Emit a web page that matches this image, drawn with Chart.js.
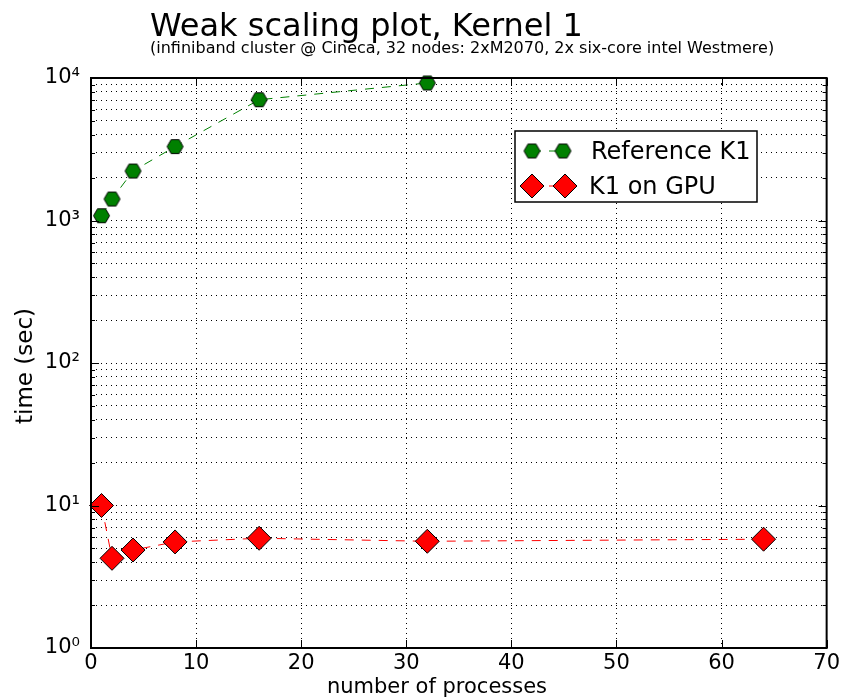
<!DOCTYPE html>
<html>
<head>
<meta charset="utf-8">
<title>Weak scaling plot, Kernel 1</title>
<script src="https://cdn.jsdelivr.net/npm/chart.js@4.4.0/dist/chart.umd.min.js"></script>
<style>
  html, body { margin: 0; padding: 0; background: #fff; }
  #wrap { width: 843px; height: 700px; }
</style>
</head>
<body>
<div id="wrap"><canvas id="weakChart" width="843" height="700"></canvas></div>
<script>
// Data
const processes = [1, 2, 4, 8, 16, 32, 64];
const referenceK1 = [1080, 1415, 2225, 3300, 7040, 9230]; // runs only up to 32 processes
const gpuK1 = [10.0, 4.26, 4.87, 5.55, 5.89, 5.61, 5.80];
const seriesNames = ['Reference K1', 'K1 on GPU'];
const xTicks = [0, 10, 20, 30, 40, 50, 60, 70];
const yDecades = [1, 10, 100, 1000, 10000];

const FONT = 'DejaVu Sans';
const GREEN = '#008000';
const RED = '#ff0000';

// log axis: every 1..9 x 10^k gets a grid line, only decades get a label
const yTicks = [];
yDecades.forEach((d, i) => {
    if (i === yDecades.length - 1) { yTicks.push(d); return; }
    for (let m = 1; m < 10; m++) yTicks.push(m * d);
});
const SUP = ['⁰', '¹', '²', '³', '⁴', '⁵', '⁶'];
function decadeLabel(v) {
    const e = Math.round(Math.log10(v));
    return '10' + String(e).split('').map(c => SUP[+c]).join('');
}

// hexagon marker (flat top), Chart.js has none built in
function makeHexagon(r, fill) {
    const c = document.createElement('canvas');
    const size = Math.ceil(2 * r + 3);
    c.width = size;
    c.height = size;
    const g = c.getContext('2d');
    const cx = size / 2, cy = size / 2;
    g.beginPath();
    for (let k = 0; k < 6; k++) {
        const a = k * Math.PI / 3;
        g.lineTo(cx + r * Math.cos(a), cy + r * Math.sin(a));
    }
    g.closePath();
    g.fillStyle = fill;
    g.fill();
    g.strokeStyle = '#000';
    g.lineWidth = 1;
    g.stroke();
    return c;
}
const hexagon = makeHexagon(8, GREEN);

function drawDiamond(ctx, x, y, r) {
    ctx.beginPath();
    ctx.moveTo(x, y - r);
    ctx.lineTo(x + r, y);
    ctx.lineTo(x, y + r);
    ctx.lineTo(x - r, y);
    ctx.closePath();
    ctx.fillStyle = RED;
    ctx.fill();
    ctx.strokeStyle = '#000';
    ctx.lineWidth = 1;
    ctx.stroke();
}

// frame, inward ticks, legend box and titles (matplotlib look)
const decorations = {
    id: 'decorations',
    afterDatasetsDraw(chart) {
        const ctx = chart.ctx;
        const a = chart.chartArea;
        const xs = chart.scales.x, ys = chart.scales.y;
        ctx.save();
        ctx.strokeStyle = '#000';
        ctx.lineWidth = 1;
        ctx.beginPath();
        xTicks.forEach(v => {
            const px = Math.round(xs.getPixelForValue(v)) + 0.5;
            ctx.moveTo(px, a.bottom); ctx.lineTo(px, a.bottom - 8);
            ctx.moveTo(px, a.top); ctx.lineTo(px, a.top + 8);
        });
        yTicks.forEach(v => {
            const py = Math.round(ys.getPixelForValue(v)) + 0.5;
            const len = yDecades.includes(v) ? 8 : 4;
            ctx.moveTo(a.left, py); ctx.lineTo(a.left + len, py);
            ctx.moveTo(a.right, py); ctx.lineTo(a.right - len, py);
        });
        ctx.stroke();
        ctx.lineWidth = 2;
        ctx.strokeRect(a.left, a.top, a.right - a.left, a.bottom - a.top);
        ctx.restore();
    },
    afterDraw(chart) {
        const ctx = chart.ctx;
        ctx.save();

        // legend
        const box = { x: 515, y: 131, w: 242, h: 71 };
        ctx.fillStyle = '#fff';
        ctx.fillRect(box.x, box.y, box.w, box.h);
        ctx.strokeStyle = '#000';
        ctx.lineWidth = 1.5;
        ctx.strokeRect(box.x, box.y, box.w, box.h);

        ctx.setLineDash([9, 8]);
        ctx.lineWidth = 1;
        ctx.strokeStyle = GREEN;
        ctx.beginPath(); ctx.moveTo(532, 151); ctx.lineTo(563, 151); ctx.stroke();
        ctx.strokeStyle = RED;
        ctx.beginPath(); ctx.moveTo(532, 186); ctx.lineTo(565, 186); ctx.stroke();
        ctx.setLineDash([]);
        [532, 563].forEach(x => ctx.drawImage(hexagon, x - hexagon.width / 2, 151 - hexagon.height / 2));
        [532, 565].forEach(x => drawDiamond(ctx, x, 186, 12));

        ctx.fillStyle = '#000';
        ctx.textAlign = 'left';
        ctx.textBaseline = 'alphabetic';
        ctx.font = '24px "' + FONT + '"';
        ctx.fillText(seriesNames[0], 591, 159);
        ctx.fillText(seriesNames[1], 589, 194);

        // titles
        ctx.font = '32px "' + FONT + '"';
        ctx.fillText('Weak scaling plot, Kernel 1', 150, 36);
        ctx.font = '16px "' + FONT + '"';
        ctx.fillText('(infiniband cluster @ Cineca, 32 nodes: 2xM2070, 2x six-core intel Westmere)', 150, 53);

        // axis labels
        ctx.textAlign = 'center';
        ctx.font = '21px "' + FONT + '"';
        ctx.fillText('number of processes', 437, 693);
        ctx.font = '23px "' + FONT + '"';
        ctx.translate(32, 366);
        ctx.rotate(-Math.PI / 2);
        ctx.fillText('time (sec)', 0, 0);
        ctx.restore();
    }
};

const canvas = document.getElementById('weakChart');

new Chart(canvas, {
    type: 'scatter',
    data: {
        datasets: [{
            label: seriesNames[0],
            data: referenceK1.map((t, i) => ({ x: processes[i], y: t })),
            showLine: true,
            borderColor: GREEN,
            borderWidth: 1,
            borderDash: [9, 8],
            pointStyle: hexagon,
            pointRadius: 8,
            pointHoverRadius: 8,
            clip: false
        }, {
            label: seriesNames[1],
            data: gpuK1.map((t, i) => ({ x: processes[i], y: t })),
            showLine: true,
            borderColor: RED,
            borderWidth: 1,
            borderDash: [9, 8],
            pointStyle: 'rectRot',
            pointRadius: 12,
            pointHoverRadius: 12,
            pointBackgroundColor: RED,
            pointBorderColor: '#000',
            pointBorderWidth: 1,
            clip: false
        }]
    },
    options: {
        responsive: false,
        animation: false,
        events: [],
        layout: { padding: { top: 78, right: 15, bottom: 0, left: 0 } },
        plugins: {
            legend: { display: false },
            tooltip: { enabled: false }
        },
        scales: {
            x: {
                type: 'linear',
                min: 0,
                max: 70,
                afterBuildTicks: scale => { scale.ticks = xTicks.map(v => ({ value: v })); },
                afterFit: scale => { scale.height = 52; },
                grid: { color: '#000', lineWidth: 1, drawTicks: false },
                border: { display: false, dash: [1, 4] },
                ticks: {
                    autoSkip: false,
                    maxRotation: 0,
                    padding: 3,
                    color: '#000',
                    font: { family: FONT, size: 21 }
                }
            },
            y: {
                type: 'logarithmic',
                min: 1,
                max: 10000,
                afterBuildTicks: scale => { scale.ticks = yTicks.map(v => ({ value: v })); },
                afterFit: scale => { scale.width = 91; },
                grid: { color: '#000', lineWidth: 1, drawTicks: false },
                border: { display: false, dash: [1, 4] },
                ticks: {
                    autoSkip: false,
                    padding: 11,
                    color: '#000',
                    font: { family: FONT, size: 21 },
                    callback: v => yDecades.includes(v) ? decadeLabel(v) : ''
                }
            }
        }
    },
    plugins: [decorations]
});
</script>
</body>
</html>
